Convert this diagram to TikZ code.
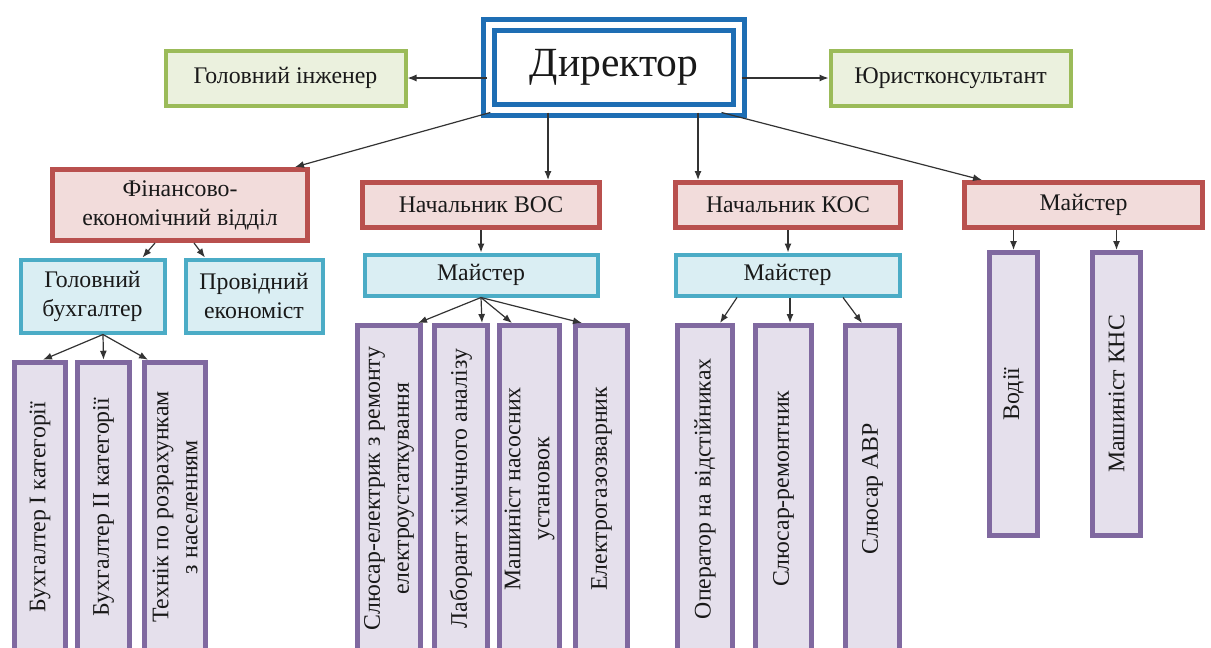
\documentclass[tikz,border=0pt]{standalone}
\usepackage{fontspec}
\setmainfont{Liberation Serif}
\usetikzlibrary{arrows.meta}
\definecolor{dirblue}{RGB}{30,110,180}
\definecolor{grnline}{RGB}{155,187,89}
\definecolor{grnfill}{RGB}{235,241,222}
\definecolor{redline}{RGB}{185,80,78}
\definecolor{redfill}{RGB}{242,220,219}
\definecolor{bluline}{RGB}{75,172,198}
\definecolor{blufill}{RGB}{218,238,243}
\definecolor{purline}{RGB}{128,105,160}
\definecolor{purfill}{RGB}{229,224,236}
\begin{document}
\begin{tikzpicture}[x=1pt,y=-1pt,
    every node/.style={font=\fontsize{23.8}{29}\selectfont,text=black!90,inner sep=0pt,align=center},
    chief/.style={draw=dirblue,fill=white,line width=5pt,double=white,double distance=6pt,
      minimum width=250pt,minimum height=85pt,font=\fontsize{41.5}{48}\selectfont},
    greenbox/.style={draw=grnline,fill=grnfill,line width=4pt,minimum width=240pt,minimum height=55pt},
    redbox/.style={draw=redline,fill=redfill,line width=5pt},
    bluebox/.style={draw=bluline,fill=blufill,line width=4pt},
    colbox/.style={draw=purline,fill=purfill,line width=5pt,rotate=90},
    link/.style={draw=black!80,line width=1.2pt,-{Latex[length=9pt,width=7pt]}}]
  \useasboundingbox (0,0) rectangle (1211,648);
  \clip (0,0) rectangle (1211,648);

  % top row
  \node[chief] (dir) at (614,67.5) {Директор};
  \node[greenbox] (gi) at (285.5,78) {Головний інженер};
  \node[greenbox] (jur) at (950.5,78) {Юристконсультант};

  % second row
  \node[redbox,minimum width=255pt,minimum height=71pt] (fin) at (180,205) {Фінансово-\\економічний відділ};
  \node[redbox,minimum width=237pt,minimum height=45pt] (vos) at (481,205) {Начальник ВОС};
  \node[redbox,minimum width=225pt,minimum height=45pt] (kos) at (788,205) {Начальник КОС};
  \node[redbox,minimum width=238pt,minimum height=45pt] (mst) at (1083.5,205) {Майстер};

  % third row
  \node[bluebox,minimum width=144pt,minimum height=73pt] (gb) at (92.5,296) {Головний\\бухгалтер};
  \node[bluebox,minimum width=137pt,minimum height=73pt] (pe) at (254,296) {Провідний\\економіст};
  \node[bluebox,minimum width=233pt,minimum height=41pt] (mvos) at (481,275) {Майстер};
  \node[bluebox,minimum width=224pt,minimum height=41pt] (mkos) at (787.5,275) {Майстер};

  % columns
  \node[colbox,minimum width=289.5pt,minimum height=51pt] (b1) at (40,507) {Бухгалтер I категорії};
  \node[colbox,minimum width=289.5pt,minimum height=52pt] (b2) at (103.5,507) {Бухгалтер II категорії};
  \node[colbox,minimum width=289.5pt,minimum height=61pt] (tex) at (175,507) {Технік по розрахункам\\з населенням};
  \node[colbox,minimum width=326.5pt,minimum height=63pt] (sl) at (389,488.75) {Слюсар-електрик з ремонту\\електроустаткування};
  \node[colbox,minimum width=326.5pt,minimum height=53pt] (lab) at (461,488.75) {Лаборант хімічного аналізу};
  \node[colbox,minimum width=326.5pt,minimum height=60pt] (mash) at (529.5,488.75) {Машиніст насосних\\установок};
  \node[colbox,minimum width=326.5pt,minimum height=52pt] (elg) at (601.5,488.75) {Електрогазозварник};
  \node[colbox,minimum width=326.5pt,minimum height=55pt] (op) at (705,488.75) {Оператор на відстійниках};
  \node[colbox,minimum width=326.5pt,minimum height=56pt] (slr) at (783.5,488.75) {Слюсар-ремонтник};
  \node[colbox,minimum width=326.5pt,minimum height=54pt] (avr) at (872.5,488.75) {Слюсар АВР};
  \node[colbox,minimum width=283pt,minimum height=48pt] (vod) at (1013.5,394) {Водії};
  \node[colbox,minimum width=283pt,minimum height=48pt] (knc) at (1116.5,394) {Машиніст КНС};

  % links from the director
  \draw[link] (dir.west |- gi.east) -- (gi.east);
  \draw[link] (dir.east |- jur.west) -- (jur.west);
  \draw[link] (dir.200) -- ([xshift=-15pt]fin.north east);
  \coordinate (dv) at ([xshift=-66pt]dir.south);
  \coordinate (dk) at ([xshift=84pt]dir.south);
  \draw[link] (dv) -- (dv |- vos.north);
  \draw[link] (dk) -- (dk |- kos.north);
  \draw[link] ([xshift=-20pt]dir.south east) -- ([xshift=20pt]mst.north west);

  % second level
  \draw[link] ([xshift=-25pt]fin.south) -- ([xshift=50pt]gb.north);
  \draw[link] ([xshift=14pt]fin.south) -- ([xshift=-49pt]pe.north);
  \draw[link] (vos.south) -- (mvos.north);
  \draw[link] (kos.south) -- (kos.south |- mkos.north);
  \draw[link] (vod.east |- mst.south) -- (vod.east);
  \draw[link] (knc.east |- mst.south) -- (knc.east);

  % third level
  \coordinate (gbo) at ([xshift=10.5pt]gb.south);
  \draw[link] (gbo) -- ([xshift=3pt]b1.east);
  \draw[link] (gbo) -- (b2.east);
  \draw[link] (gbo) -- ([xshift=-27pt]tex.east);
  \draw[link] (mvos.south) -- ([xshift=29pt]sl.east);
  \draw[link] (mvos.south) -- ([xshift=21pt]lab.east);
  \draw[link] (mvos.south) -- ([xshift=-17.5pt]mash.east);
  \draw[link] (mvos.south) -- ([xshift=-19.5pt]elg.east);
  \draw[link] ([xshift=-50.5pt]mkos.south) -- ([xshift=15pt]op.east);
  \draw[link] ([xshift=2.5pt]mkos.south) -- ([xshift=6.5pt]slr.east);
  \draw[link] ([xshift=55.5pt]mkos.south) -- ([xshift=-10.5pt]avr.east);
\end{tikzpicture}
\end{document}
